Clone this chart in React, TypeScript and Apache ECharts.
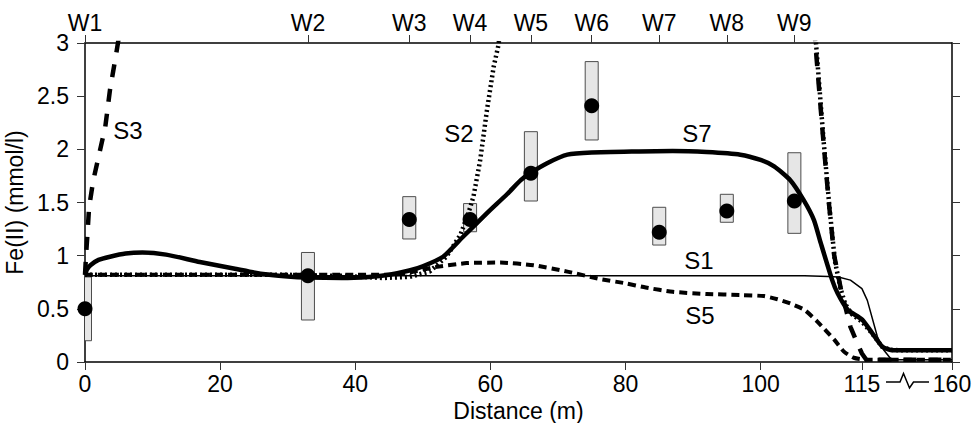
import React, { useEffect, useRef } from "react";
import * as echarts from "echarts";

// ---- data (real distances in metres) ----
const wellNames = ["W1", "W2", "W3", "W4", "W5", "W6", "W7", "W8", "W9"];
const wellX = [0, 33, 48, 57, 66, 75, 85, 95, 105];
const measured = [0.5, 0.81, 1.34, 1.34, 1.775, 2.41, 1.22, 1.42, 1.515];
const rangeLo = [0.2, 0.395, 1.157, 1.225, 1.514, 2.088, 1.1, 1.314, 1.21];
const rangeHi = [0.8, 1.03, 1.555, 1.49, 2.166, 2.825, 1.455, 1.577, 1.968];

const bottomTicks = [0, 20, 40, 60, 80, 100, 115, 160];

const s1X = [0, 106.5, 110, 111.5, 113.3, 115, 117.7, 122.7, 126, 129.4, 132, 160];
const s1Y = [0.81, 0.81, 0.805, 0.8, 0.77, 0.69, 0.58, 0.24, 0.11, 0.03, 0.02, 0.02];

const s2X = [0, 30, 38, 44, 48, 51, 53.5, 55.6, 57, 57.5, 58.5, 59.5, 60.5, 61.2, 61.8, 107.9, 108.2, 109.3, 110.2, 111, 111.8, 112.5, 113.5, 115, 120, 125, 129, 135, 160];
const s2Y = [0.82, 0.82, 0.81, 0.79, 0.8, 0.85, 0.99, 1.2, 1.45, 1.555, 1.9, 2.37, 2.78, 2.98, 3.3, 3.3, 3.0, 2.1, 1.45, 0.95, 0.7, 0.55, 0.45, 0.38, 0.27, 0.145, 0.115, 0.11, 0.11];

const s3X = [0, 0.15, 0.34, 0.6, 1.2, 1.9, 3, 3.7, 4.7, 5.0, 5.5, 107.8, 108.1, 109.2, 110.1, 110.9, 111.9, 113.3, 114.3, 115, 117, 120, 160];
const s3Y = [0.82, 1.0, 1.18, 1.45, 1.7, 1.9, 2.21, 2.56, 2.93, 3.05, 3.3, 3.3, 3.0, 2.15, 1.5, 1.0, 0.68, 0.33, 0.18, 0.08, 0.025, 0.02, 0.02];

const s5X = [0, 45, 48, 51.6, 56.5, 61.5, 66.4, 71.4, 76.3, 80, 83, 87, 92, 97, 100.5, 102.5, 104.4, 106.5, 108.4, 110.9, 112.3, 113.8, 117.7, 160];
const s5Y = [0.82, 0.82, 0.84, 0.89, 0.93, 0.935, 0.91, 0.85, 0.78, 0.74, 0.7, 0.66, 0.64, 0.63, 0.62, 0.59, 0.55, 0.49, 0.38, 0.21, 0.1, 0.04, 0.02, 0.02];

const s7X = [0, 0.3, 0.8, 2, 3.7, 6, 8.5, 12, 17, 22, 26, 30, 33, 38, 42, 45, 48, 50, 53, 56, 59.5, 62.5, 64.5, 66, 68.4, 71.4, 75, 82, 87, 92, 97, 100, 102, 104.4, 106.4, 107.9, 108.9, 110.6, 111.4, 112.9, 115, 120.2, 125.2, 129.4, 135, 160];
const s7Y = [0.82, 0.87, 0.91, 0.96, 0.99, 1.02, 1.03, 1.01, 0.94, 0.88, 0.83, 0.805, 0.795, 0.79, 0.8, 0.82, 0.86, 0.9, 0.99, 1.18, 1.4, 1.58, 1.71, 1.78, 1.87, 1.95, 1.97, 1.98, 1.985, 1.975, 1.95, 1.9, 1.84, 1.71, 1.52, 1.335, 1.12, 0.77, 0.646, 0.49, 0.4, 0.27, 0.144, 0.113, 0.11, 0.11];

// broken axis: 0..115 linear, 115..160 compressed
const BREAK = 115;
const COMPRESS = 2 / 6.75;
const tx = (x: number) => (x <= BREAK ? x : BREAK + (x - BREAK) * COMPRESS);
const X_MAX = tx(160);

const FONT = "'Liberation Sans', Arial, Helvetica, sans-serif";
const FS = 23;

const pairs = (xs: number[], ys: number[]) => xs.map((x, i) => [tx(x), ys[i]]);

export default function App() {
  const ref = useRef<HTMLDivElement>(null);
  useEffect(() => {
    if (!ref.current) return;
    const chart = echarts.init(ref.current, null, { renderer: "svg" });
    const txt = { color: "#000", fontFamily: FONT, fontSize: FS };
    const axisLine = { show: true, onZero: false, lineStyle: { color: "#000", width: 1.5 } };
    const tick = { show: true, inside: false, length: 8, lineStyle: { color: "#333", width: 1 } };
    const bottomVals = bottomTicks.map(tx);
    const wellVals = wellX.map(tx);

    const lineSeries = (name: string, xs: number[], ys: number[], width: number, type: any, smooth: number | boolean) => ({
      type: "line",
      name,
      data: pairs(xs, ys),
      showSymbol: false,
      smooth,
      clip: true,
      z: 3,
      lineStyle: { color: "#000", width, type, cap: "butt", join: "round", opacity: 1 },
    });

    const label = (text: string, x: number, y: number) => ({
      type: "text",
      x,
      y,
      style: { text, fill: "#000", font: `24px ${FONT}`, align: "center", verticalAlign: "middle" },
    });

    chart.setOption({
      animation: false,
      backgroundColor: "#fff",
      grid: { left: 85, right: 22, top: 43, bottom: 61, containLabel: false, outerBoundsMode: "none" },
      xAxis: [
        {
          type: "value",
          position: "bottom",
          min: 0,
          max: X_MAX,
          name: "Distance (m)",
          nameLocation: "middle",
          nameGap: 35,
          nameTextStyle: txt,
          axisLine,
          axisTick: { ...tick, customValues: bottomVals },
          axisLabel: {
            ...txt,
            margin: 10,
            customValues: bottomVals,
            formatter: (v: number) => {
              const i = bottomVals.findIndex((b) => Math.abs(b - v) < 1e-6);
              return i >= 0 ? String(bottomTicks[i]) : "";
            },
          },
          splitLine: { show: false },
        },
        {
          type: "value",
          position: "top",
          min: 0,
          max: X_MAX,
          axisLine,
          axisTick: { ...tick, customValues: wellVals },
          axisLabel: {
            ...txt,
            margin: 9,
            customValues: wellVals,
            formatter: (v: number) => {
              const i = wellVals.findIndex((b) => Math.abs(b - v) < 1e-6);
              return i >= 0 ? wellNames[i] : "";
            },
          },
          splitLine: { show: false },
        },
      ],
      yAxis: [
        {
          type: "value",
          position: "left",
          min: 0,
          max: 3,
          interval: 0.5,
          name: "Fe(II) (mmol/l)",
          nameLocation: "middle",
          nameGap: 47,
          nameRotate: 90,
          nameTextStyle: txt,
          axisLine,
          axisTick: tick,
          axisLabel: { ...txt, margin: 16 },
          splitLine: { show: false },
        },
        {
          type: "value",
          position: "right",
          min: 0,
          max: 3,
          interval: 0.5,
          axisLine,
          axisTick: tick,
          axisLabel: { show: false },
          splitLine: { show: false },
        },
      ],
      series: [
        {
          type: "custom",
          name: "range",
          clip: true,
          z: 1,
          data: wellX.map((x, i) => [tx(x), rangeLo[i], rangeHi[i]]),
          encode: { x: 0, y: [1, 2] },
          renderItem: (params: any, api: any) => {
            const x = api.value(0);
            const top = api.coord([x, api.value(2)]);
            const bot = api.coord([x, api.value(1)]);
            return {
              type: "rect",
              shape: { x: top[0] - 6.5, y: top[1], width: 13, height: bot[1] - top[1] },
              style: { fill: "#e6e6e6", stroke: "#4d4d4d", lineWidth: 1 },
            };
          },
        },
        lineSeries("S1", s1X, s1Y, 1.5, "solid", false),
        lineSeries("S5", s5X, s5Y, 4, [8, 5], 0.2),
        lineSeries("S3", s3X, s3Y, 4.5, [13, 12], false),
        lineSeries("S2", s2X, s2Y, 4.5, [2, 3], false),
        lineSeries("S7", s7X, s7Y, 4.5, "solid", 0.2),
        {
          type: "scatter",
          name: "measured",
          z: 5,
          symbol: "circle",
          symbolSize: 15,
          itemStyle: { color: "#000", opacity: 1 },
          data: wellX.map((x, i) => [tx(x), measured[i]]),
        },
      ],
      graphic: [
        label("S3", 128, 130),
        label("S2", 459, 133),
        label("S7", 697, 133),
        label("S1", 699, 260),
        label("S5", 700, 315),
        {
          type: "polyline",
          shape: { points: [[886, 382], [900, 382], [903.5, 373.5], [909.5, 388], [913.5, 382], [929, 382]] },
          style: { stroke: "#000", lineWidth: 1.5, fill: "none" },
        },
      ],
    });
    return () => chart.dispose();
  }, []);
  return <div ref={ref} style={{ position: "fixed", left: 0, top: 0, width: 974, height: 423, background: "#fff" }} />;
}
